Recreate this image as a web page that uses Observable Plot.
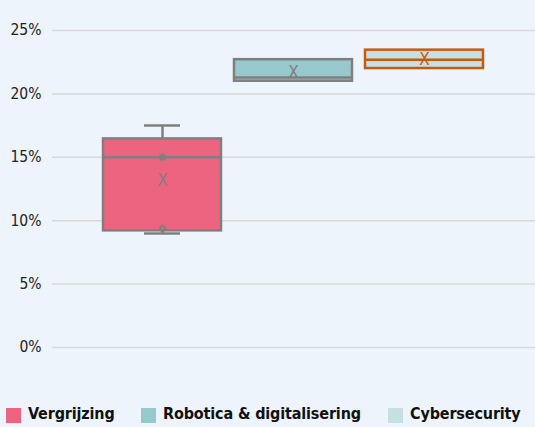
<!DOCTYPE html>
<html><head><meta charset="utf-8">
<script src="https://cdn.jsdelivr.net/npm/d3@7"></script>
<script src="https://cdn.jsdelivr.net/npm/@observablehq/plot@0.6"></script>
<style>
html,body{margin:0;padding:0;background:#edf4fc;}
body{width:535px;height:427px;overflow:hidden;position:relative;font-family:"DejaVu Sans Condensed","Roboto",sans-serif;}
#legend{position:absolute;top:0;left:0;width:535px;height:427px;pointer-events:none;}
#legend .sw{position:absolute;top:408px;width:15px;height:15px;}
#legend .lb{position:absolute;top:404px;font-weight:bold;font-size:16px;color:#111;white-space:nowrap;letter-spacing:-0.15px;}
</style></head>
<body>
<div id="chart"></div>
<div id="legend"></div>
<script>
const categories = ["Vergrijzing", "Robotica & digitalisering", "Cybersecurity"];
const q1 = [9.2, 21.0, 22.0];
const median = [15.0, 21.3, 22.7];
const q3 = [16.45, 22.7, 23.45];
const whiskerLow = [9.0, 21.0, 22.0];
const whiskerHigh = [17.5, 22.7, 23.45];
const mean = [13.2, 21.7, 22.7];
const pointCat = ["Vergrijzing", "Vergrijzing"];
const pointVal = [15.0, 9.4];
const fills = ["#ec6480", "#97c8cc", "#c6dfe1"];
const strokes = ["#7f7f7f", "#7f7f7f", "#c55a11"];
const yTicks = [0, 5, 10, 15, 20, 25];

const rows = categories.map((c, i) => ({c, q1: q1[i], med: median[i], q3: q3[i], lo: whiskerLow[i], hi: whiskerHigh[i], mean: mean[i], fill: fills[i], stroke: strokes[i]}));
const upper = rows.filter(d => d.hi > d.q3);
const lower = rows.filter(d => d.lo < d.q1);
const pts = pointCat.map((c, i) => ({c, v: pointVal[i]}));

const chart = Plot.plot({
  width: 535, height: 395,
  marginLeft: 52, marginRight: 0, marginTop: 30, marginBottom: 48,
  style: {background: "transparent", fontFamily: "'DejaVu Sans Condensed',Roboto,sans-serif", fontSize: "15.5px", color: "#222"},
  x: {domain: categories, range: [102, 483.5], paddingInner: 0.1, paddingOuter: 0, axis: null},
  y: {domain: [0, 25], ticks: yTicks, tickFormat: d => d + "%", tickSize: 0, tickPadding: 11, label: null},
  marks: [
    Plot.gridY(yTicks, {stroke: "#d9d9d9", strokeOpacity: 1, strokeWidth: 1.5}),
    Plot.ruleX(upper, {x: "c", y1: "q3", y2: "hi", stroke: "stroke", strokeWidth: 2.5}),
    Plot.ruleX(lower, {x: "c", y1: "lo", y2: "q1", stroke: "stroke", strokeWidth: 2.5}),
    Plot.tickY(upper, {x: "c", y: "hi", stroke: "stroke", strokeWidth: 2.5, insetLeft: 41, insetRight: 41}),
    Plot.tickY(lower, {x: "c", y: "lo", stroke: "stroke", strokeWidth: 2.5, insetLeft: 41, insetRight: 41}),
    Plot.barY(rows, {x: "c", y1: "q1", y2: "q3", fill: "fill", stroke: "stroke", strokeWidth: 2.5}),
    Plot.tickY(rows, {x: "c", y: "med", stroke: "stroke", strokeWidth: 2.5}),
    Plot.dot(pts, {x: "c", y: "v", r: 2.5, stroke: "#7f7f7f", strokeWidth: 2, fill: "none"}),
    Plot.text(rows, {x: "c", y: "mean", text: () => "X", fill: "stroke", fontSize: 17, fontWeight: "normal"})
  ]
});
document.getElementById("chart").appendChild(chart);

const legend = document.getElementById("legend");
const swX = [6, 141, 388];
const lbX = [28, 163, 410];
categories.forEach((c, i) => {
  const sw = document.createElement("div");
  sw.className = "sw";
  sw.style.left = swX[i] + "px";
  sw.style.background = fills[i];
  const t = document.createElement("span");
  t.className = "lb";
  t.style.left = lbX[i] + "px";
  t.textContent = c;
  legend.appendChild(sw); legend.appendChild(t);
});
</script>
</body></html>
